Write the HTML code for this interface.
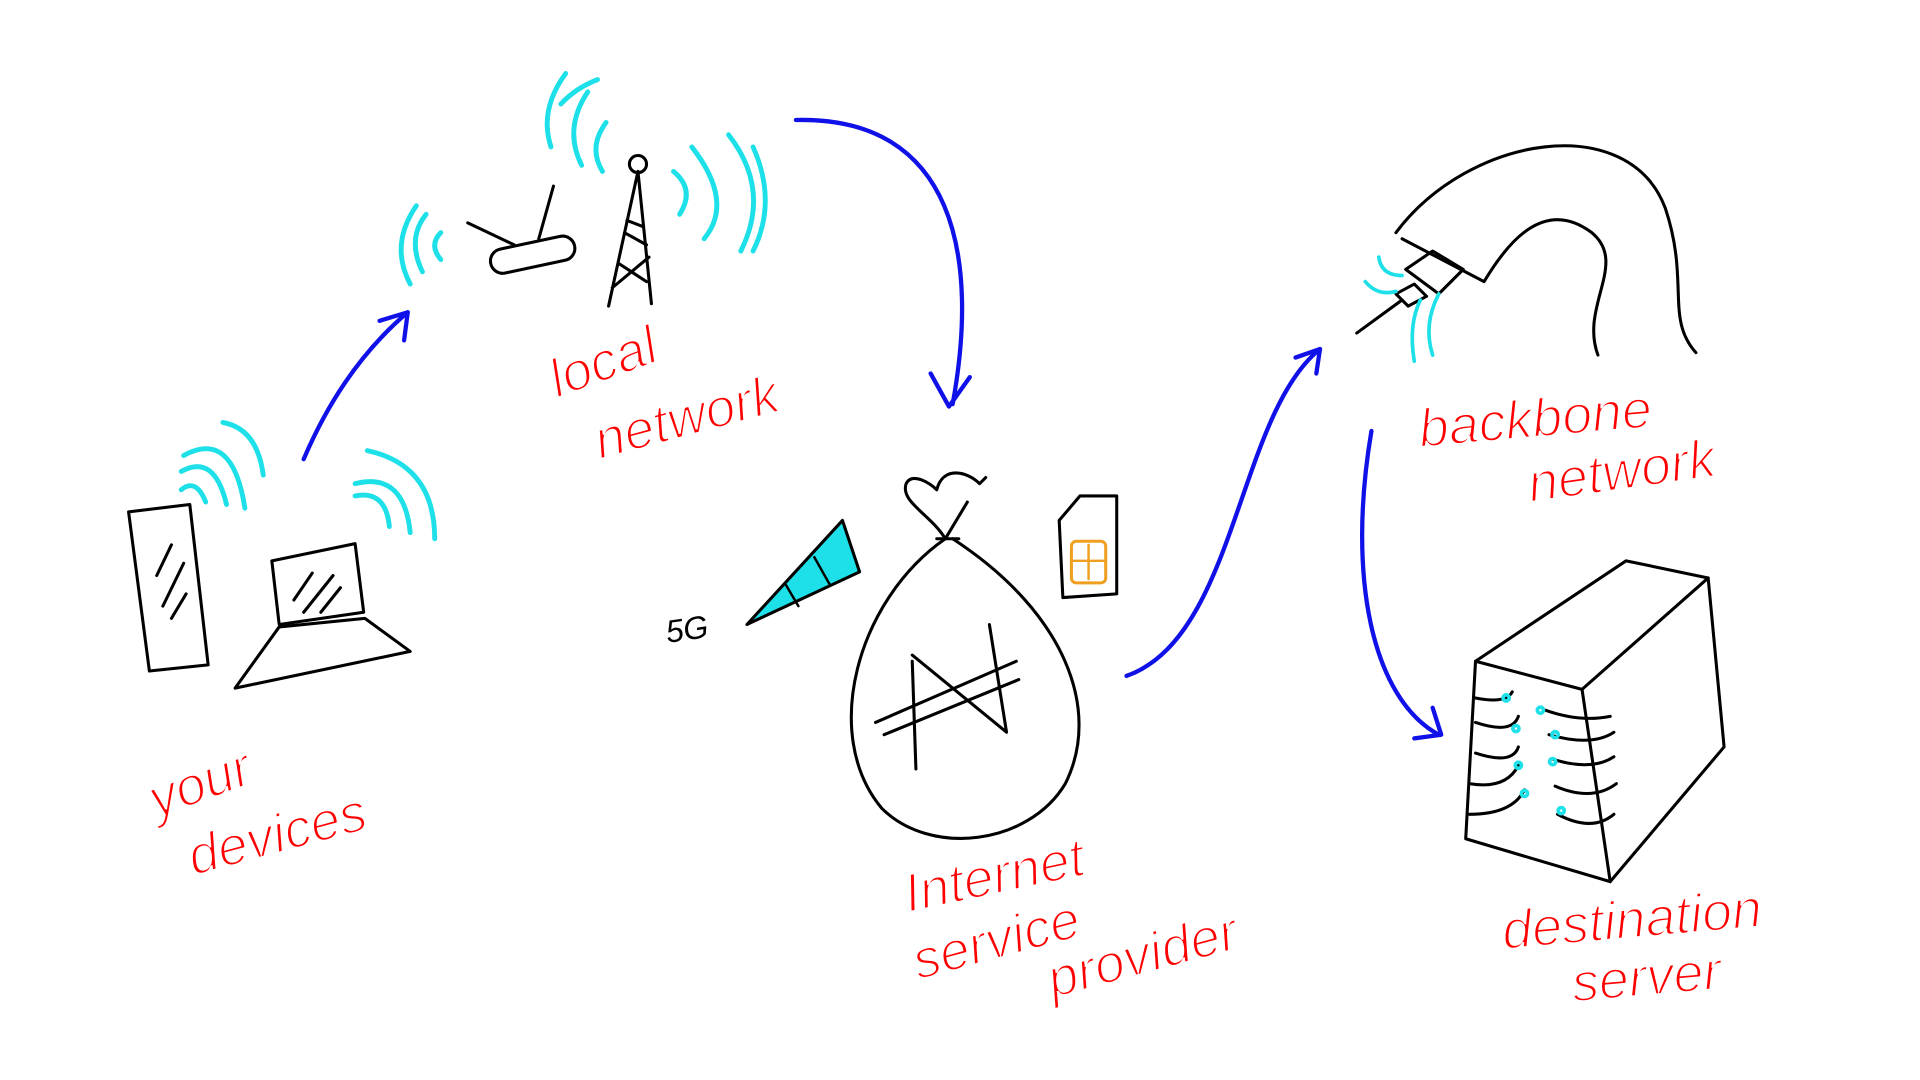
<!DOCTYPE html>
<html><head><meta charset="utf-8"><style>
html,body{margin:0;padding:0;background:#fff;width:1920px;height:1080px;overflow:hidden}
svg{display:block}
.r{fill:#f00;font-family:"Liberation Sans",sans-serif;font-style:italic;font-size:44px;stroke:#fff;stroke-width:1.6px}
</style></head><body>
<svg width="1920" height="1080" viewBox="0 0 1568 882" preserveAspectRatio="none" xmlns="http://www.w3.org/2000/svg">
<g fill="none" stroke-linecap="round" stroke-linejoin="round">
<g stroke="#000" stroke-width="2.5">
<path d="M105 418 L155 412 L170 543 L122 548 Z"/>
<path d="M128 470 L140 445 M133 495 L150 460 M140 505 L152 485"/>
<path d="M222 458 L290 444 L297 500 L228 510 Z"/>
<path d="M240 490 L255 468 M248 500 L272 470 M262 500 L278 480"/>
<path d="M228 512 L298 505 L335 532 L192 562 Z"/>
</g>
<g stroke="#1ee0e8" stroke-width="4">
<path d="M148 400 Q160 390 168 410"/><path d="M148 385 Q175 370 185 412"/><path d="M150 372 Q190 350 200 415"/>
<path d="M182 345 Q210 350 215 388"/>
<path d="M290 405 Q315 400 318 430"/><path d="M290 395 Q330 385 335 435"/><path d="M300 368 Q355 380 355 440"/>
<path d="M360 190 Q350 200 360 212"/><path d="M348 175 Q332 195 345 222"/><path d="M340 168 Q318 200 335 232"/>
<path d="M480 75 Q460 105 475 135"/><path d="M495 100 Q480 120 492 140"/><path d="M462 60 Q440 90 450 120"/>
<path d="M488 65 Q470 72 458 85"/>
<path d="M550 140 Q568 155 555 175"/><path d="M565 120 Q600 165 575 195"/><path d="M595 110 Q630 155 605 205"/>
<path d="M615 120 Q635 165 615 205"/>
</g>
<g stroke="#000" stroke-width="2.5">
<rect x="400" y="198" width="70" height="20" rx="10" transform="rotate(-12 435 208)"/>
<path d="M382 182 L420 200 M452 152 L440 195"/>
<circle cx="521" cy="134" r="7"/>
<path d="M521 140 L497 250 M521 140 L532 248 M505 215 L528 230 M500 235 L530 210 M510 190 L528 200 M512 180 L525 185"/>
</g>
<path d="M610 510 L688 425 L702 467 Z" fill="#1ee0e8" stroke="#000" stroke-width="2.5"/>
<path d="M642 478 L652 495 M665 455 L678 478" stroke="#000" stroke-width="2"/>
<g stroke="#000" stroke-width="2.5">
<path d="M772 440 C700 490 670 600 720 660 C760 700 840 690 870 640 C900 580 870 500 778 440"/>
<path d="M765 440 L783 440 M772 440 C760 420 735 410 740 395 C745 385 760 395 765 400 C770 380 790 385 800 395 L805 390 M772 440 L790 410"/>
<path d="M745 540 L748 628 M745 535 L822 598 L808 510"/>
<path d="M715 590 L830 540 M722 600 L832 555"/>
<path d="M882 405 L912 405 L912 485 L868 488 L865 425 Z"/>
</g>
<rect x="875" y="442" width="28" height="34" rx="4" fill="none" stroke="#f0a020" stroke-width="2.5"/>
<path d="M889 445 L889 473 M876 458 L902 458" stroke="#f0a020" stroke-width="2"/>
<g stroke="#000" stroke-width="2.5">
<path d="M1140 190 C1200 110 1330 90 1360 170 C1380 230 1360 260 1385 288"/>
<path d="M1145 195 L1212 230 C1230 200 1260 160 1300 190 C1330 215 1290 250 1305 290"/>
<path d="M1148 220 L1170 205 L1195 220 L1175 240 Z"/>
<path d="M1140 240 L1155 232 L1165 242 L1150 250 Z"/>
<path d="M1108 272 L1145 245"/>
<path d="M1205 540 L1328 458 L1395 472 L1292 563 Z"/>
<path d="M1205 540 L1197 685 L1315 720 L1292 563"/>
<path d="M1395 472 L1408 610 L1315 720"/>
<path d="M1205 570 Q1230 575 1235 565 M1205 590 Q1235 600 1240 585 M1205 615 Q1235 625 1240 610 M1200 640 Q1230 645 1240 625 M1200 665 Q1235 665 1245 645"/>
<path d="M1262 580 Q1290 590 1315 585 M1265 600 Q1300 610 1318 598 M1268 620 Q1300 630 1318 618 M1270 642 Q1300 655 1320 640 M1272 665 Q1300 680 1318 665"/>
</g>
<g stroke="#1ee0e8" stroke-width="3">
<path d="M1126 210 Q1128 225 1145 225"/><path d="M1115 230 Q1125 242 1140 238"/>
<path d="M1160 245 Q1150 265 1155 295"/><path d="M1175 240 Q1162 265 1170 290"/>
<circle cx="1230" cy="570" r="2.5"/><circle cx="1258" cy="580" r="2.5"/><circle cx="1238" cy="595" r="2.5"/><circle cx="1270" cy="600" r="2.5"/><circle cx="1240" cy="625" r="2.5"/><circle cx="1268" cy="622" r="2.5"/><circle cx="1245" cy="648" r="2.5"/><circle cx="1275" cy="662" r="2.5"/>
</g>
<g stroke="#1010e8" stroke-width="3.5">
<path d="M248 375 Q280 300 333 255"/><path d="M310 262 L333 255 L330 278"/>
<path d="M650 98 C780 95 800 210 778 330"/><path d="M760 305 L775 332 L792 308"/>
<path d="M920 552 C1010 520 1010 340 1078 285"/><path d="M1058 292 L1078 285 L1075 305"/>
<path d="M1120 352 C1100 470 1120 570 1175 600"/><path d="M1155 603 L1177 600 L1170 578"/>
</g>
</g>
<text x="545" y="525" font-family="Liberation Sans,sans-serif" font-size="26" font-style="italic" fill="#000" transform="rotate(-8 545 525)">5G</text>
<g class="r">
<text x="455" y="325" transform="rotate(-20 455 325)">local</text>
<text x="490" y="375" transform="rotate(-15 490 375)">network</text>
<text x="128" y="668" transform="rotate(-20 128 668)">your</text>
<text x="158" y="715" transform="rotate(-15 158 715)">devices</text>
<text x="742" y="745" transform="rotate(-12 742 745)">Internet</text>
<text x="750" y="800" transform="rotate(-15 750 800)">service</text>
<text x="860" y="815" transform="rotate(-15 860 815)">provider</text>
<text x="1160" y="365" transform="rotate(-5 1160 365)">backbone</text>
<text x="1250" y="410" transform="rotate(-8 1250 410)">network</text>
<text x="1228" y="775" transform="rotate(-5 1228 775)">destination</text>
<text x="1285" y="818" transform="rotate(-5 1285 818)">server</text>
</g>
</svg>
</body></html>
